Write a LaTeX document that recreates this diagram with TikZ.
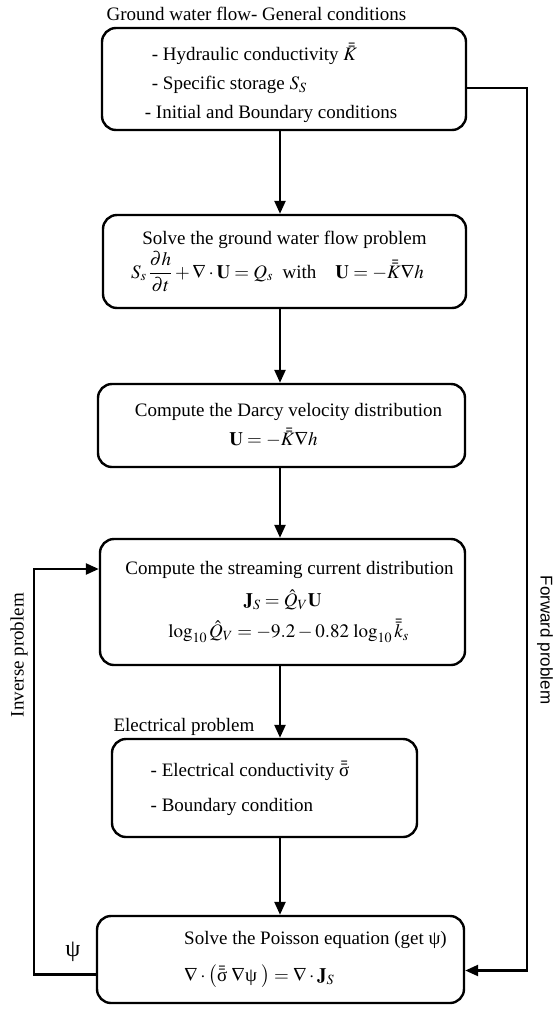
\documentclass[tikz,border=0pt]{standalone}
\usepackage{amsmath}
\usepackage{mathptmx}
\usepackage{fontspec}
\setmainfont{Liberation Serif}
\newfontfamily\sidefont{Liberation Sans}
\usepackage{tikz}
\usetikzlibrary{calc}
\usetikzlibrary{arrows.meta}
\newcommand{\upsig}{\text{σ}}
\newcommand{\uppsi}{\text{ψ}}

\begin{document}
\begin{tikzpicture}[x=1pt,y=-1pt,
                        font=\fontsize{19}{23}\selectfont,
                        box/.style={draw,line width=2.4,rounded corners=14,inner sep=0pt,align=center},
                        flow/.style={line width=2.4,-{Triangle[length=13pt,width=11pt]}}
                        ]
                        \useasboundingbox (0,0) rectangle (556,1010);
                        % ground water part
                        \node[box,minimum width=364,minimum height=102,align=left] (gw) at (284,79)
                                {\rule{0pt}{26pt}\hspace*{7pt}- Hydraulic conductivity $\bar{\bar{K}}$\\[6pt]
                                 \hspace*{7pt}- Specific storage $S_S$\\[6pt]
                                 - Initial and Boundary conditions\hspace*{26pt}};
                        \node[anchor=base west] (gwtitle) at (103,20) {Ground water flow- General conditions};

                        \node[box,minimum width=363,minimum height=93] (solvegw) at (284.5,261.5)
                                {Solve the ground water flow problem\\[1pt]
                                 $S_s\,\dfrac{\partial h}{\partial t}+\nabla\cdot\mathbf{U}=Q_s$\ \ with\quad $\mathbf{U}=-\bar{\bar{K}}\nabla h$\hspace*{14pt}};
                        \node[box,minimum width=367,minimum height=83] (darcy) at (281.5,425.5)
                                {\hspace*{14pt}Compute the Darcy velocity distribution\\[6pt]
                                 $\mathbf{U}=-\bar{\bar{K}}\nabla h$\hspace*{16pt}};
                        \node[box,minimum width=365,minimum height=126] (stream) at (282.5,602)
                                {\hspace*{14pt}Compute the streaming current distribution\\[9pt]
                                 $\mathbf{J}_S=\hat{Q}_V\mathbf{U}$\hspace*{20pt}\\[8pt]
                                 \hspace*{12pt}$\log_{10}\hat{Q}_V=-9.2-0.82\,\log_{10}\bar{\bar{k}}_s$};

                        % electrical part
                        \node[box,minimum width=305,minimum height=98,align=left] (elec) at (264.5,788)
                                {- Electrical conductivity $\bar{\bar{\upsig}}$\hspace*{29pt}\\[12pt]
                                 - Boundary condition};
                        \node[anchor=base west] (electitle) at (110,731) {Electrical problem};

                        \node[box,minimum width=367,minimum height=87,align=left] (poisson) at (280.5,959.5)
                                {\hspace*{70pt}Solve the Poisson equation (get ψ)\\[14pt]
                                 \hspace*{70pt}$\nabla\cdot\bigl(\bar{\bar{\upsig}}\;\nabla\uppsi\;\bigr)=\nabla\cdot\mathbf{J}_S$};

                        % main chain
                        \draw[flow] (gw.south -| 280,0) -- (solvegw.north -| 280,0);
                        \draw[flow] (solvegw.south -| 280,0) -- (darcy.north -| 280,0);
                        \draw[flow] (darcy.south -| 280,0) -- (stream.north -| 280,0);
                        \draw[flow] (stream.south -| 280,0) -- (elec.north -| 280,0);
                        \draw[flow] (elec.south -| 280,0) -- (poisson.north -| 280,0);

                        % forward problem
                        \coordinate (fwd) at (527,88);
                        \draw[flow] ($(gw.east)+(0,9)$) -- (fwd) |- ($(poisson.east)+(0,11)$);
                        \node[rotate=-90,font=\sidefont\fontsize{17}{20}\selectfont] (fwdlabel) at (545,640) {Forward problem};

                        % inverse problem
                        \coordinate (inv) at (34,569);
                        \draw[flow] ($(poisson.west)+(0,15)$) -| (inv) -- (inv -| stream.west);
                        \node[rotate=90] (invlabel) at (19,655) {Inverse problem};
                        \node (psilabel) at (73,952) {\fontsize{24}{26}\selectfont ψ};
                \end{tikzpicture}
\end{document}
